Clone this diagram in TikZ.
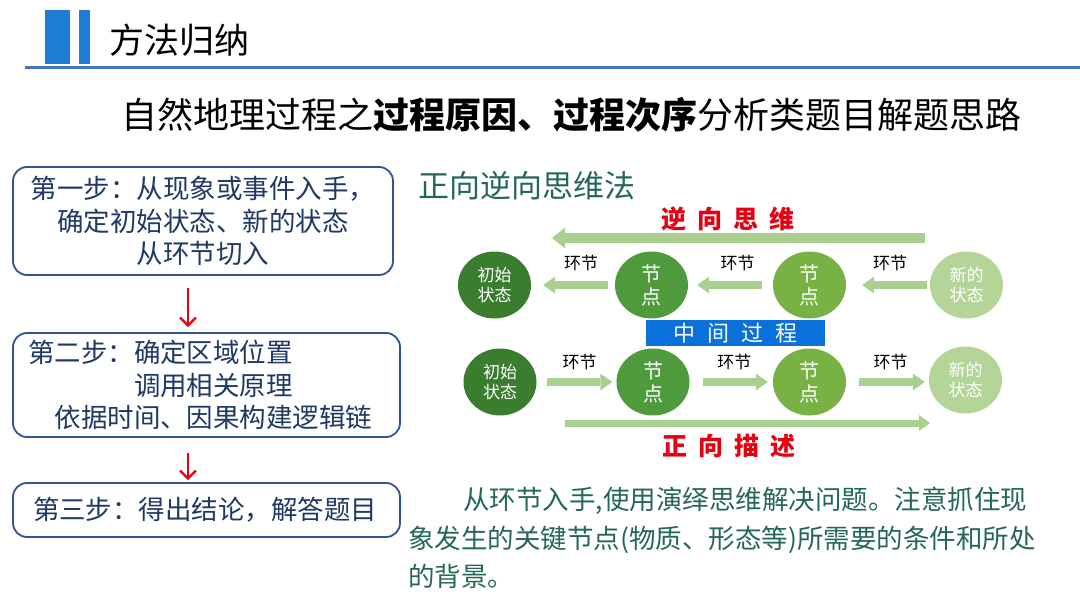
\documentclass[tikz,border=0pt]{standalone}
\usepackage{fontspec}
\setmainfont{Noto Sans CJK SC}
\usepackage{xcolor}
\usetikzlibrary{arrows.meta, positioning, shapes.geometric, calc}

\definecolor{barblue}{HTML}{1E7DD2}
\definecolor{topline}{HTML}{4472C4}
\definecolor{boxblue}{HTML}{2F5597}
\definecolor{stepnavy}{HTML}{1F3864}
\definecolor{tealtext}{HTML}{24675A}
\definecolor{hotred}{HTML}{E60012}
\definecolor{midblue}{HTML}{0A70DC}
\definecolor{arrowgreen}{HTML}{A9D08E}
\definecolor{stateA}{HTML}{3A7D2E}
\definecolor{stateB}{HTML}{4F9A3C}
\definecolor{stateC}{HTML}{79B244}
\definecolor{stateD}{HTML}{B4D597}

\newcommand{\lsp}{\hspace{11pt}}

\tikzset{
  stepbox/.style={draw=boxblue, line width=1.8pt, rounded corners=14pt,
    text=stepnavy, font=\fontsize{26.5}{32.5}\selectfont},
  state/.style={ellipse, minimum width=73pt, minimum height=67pt, inner sep=0pt,
    text=white, align=center, font=\fontsize{17}{20}\selectfont},
  knot/.style={state, font=\fontsize{20}{23}\selectfont},
  fatarrow/.style={draw=arrowgreen, line width=8pt,
    -{Triangle[width=17pt,length=12pt,line width=0pt]}},
  linklabel/.style={font=\fontsize{17}{20}\selectfont, inner sep=0pt},
  redlabel/.style={text=hotred, font=\fontsize{25}{27}\selectfont\bfseries},
  redarrow/.style={draw=hotred, line width=2.2pt, -{Straight Barb[length=8pt,width=16pt]}}
}

\begin{document}
\begin{tikzpicture}[x=1pt, y=-1pt]
  \useasboundingbox (0,0) rectangle (1080,608);

  % header
  \fill[barblue] (45,10) rectangle (70,64);
  \fill[barblue] (79,10) rectangle (90,64);
  \draw[topline, line width=3pt] (25,67) -- (1080,67);
  \node[anchor=west, font=\fontsize{35}{40}\selectfont] (title) at (106,40) {方法归纳};
  \node[anchor=west, font=\fontsize{36}{42}\selectfont] (heading) at (118,115)
    {自然地理过程之\textbf{过程原因、过程次序}分析类题目解题思路};

  % three steps
  \node[stepbox, minimum width=380pt, minimum height=108pt, align=center] (step1) at (203,221)
    {第一步：从现象或事件入手，\\确定初始状态、新的状态\\从环节切入};
  \node[stepbox, minimum width=387pt, minimum height=104pt, text width=357pt,
    inner xsep=15pt, align=left] (step2) at (206.5,385)
    {第二步：确定区域位置\\\hspace*{4em}调用相关原理\\\hspace*{1em}依据时间、因果构建逻辑链};
  \node[stepbox, minimum width=387pt, minimum height=54pt, text width=347pt,
    inner xsep=20pt, align=left] (step3) at (206.5,510) {第三步：得出结论，解答题目};
  \coordinate (redx) at (188,0);
  \draw[redarrow, shorten <=12pt, shorten >=5pt] (step1.south -| redx) -- (step2.north -| redx);
  \draw[redarrow, shorten <=15pt, shorten >=2pt] (step2.south -| redx) -- (step3.north -| redx);

  % forward / backward thinking
  \node[anchor=west, text=tealtext, font=\fontsize{31}{34}\selectfont] (method) at (415,186) {正向逆向思维法};
  \node[redlabel] (revlabel) at (728,219) {逆\lsp 向\lsp 思\lsp 维};
  \coordinate (revstart) at (925,238);
  \coordinate (revend) at (552,238);
  \draw[fatarrow, line width=10pt, -{Triangle[width=21pt,length=13pt,line width=0pt]}] (revstart) -- (revend);

  \node[state, fill=stateA] (u1) at (494.5,285) {初始\\状态};
  \node[knot, fill=stateB] (u2) at (651.5,285) {节\\点};
  \node[knot, fill=stateC] (u3) at (809.5,285) {节\\点};
  \node[state, fill=stateD] (u4) at (966.5,285) {新的\\状态};
  \draw[fatarrow, shorten <=7pt, shorten >=12pt] (u2) -- node[linklabel, above=10pt, xshift=8pt] (ulab1) {环节} (u1);
  \draw[fatarrow, shorten <=11pt, shorten >=9pt] (u3) -- node[linklabel, above=10pt, xshift=7pt] (ulab2) {环节} (u2);
  \draw[fatarrow, shorten <=3pt, shorten >=16pt] (u4) -- node[linklabel, above=10pt, xshift=2pt] (ulab3) {环节} (u3);

  \node[fill=midblue, minimum width=179pt, minimum height=26pt, inner sep=0pt, text=white,
    font=\fontsize{22}{24}\selectfont] (mid) at (735.5,333) {中\hspace{12pt}间\hspace{12pt}过\hspace{12pt}程};

  \node[state, fill=stateA] (l1) at (500,382) {初始\\状态};
  \node[knot, fill=stateB] (l2) at (653,382) {节\\点};
  \node[knot, fill=stateC] (l3) at (809.5,382) {节\\点};
  \node[state, fill=stateD] (l4) at (965.5,380) {新的\\状态};
  \draw[fatarrow, shorten <=10pt, shorten >=4pt] (l1) -- node[linklabel, above=8pt, xshift=3pt] (llab1) {环节} (l2);
  \draw[fatarrow, shorten <=13pt, shorten >=5pt] (l2) -- node[linklabel, above=8pt, xshift=3pt] (llab2) {环节} (l3);
  \draw[fatarrow, shorten <=13pt, shorten >=4pt] (l3 -| l3.east) -- node[linklabel, above=8pt, xshift=3pt] (llab3) {环节} (l3 -| l4.west);

  \coordinate (fwdstart) at (565,423);
  \coordinate (fwdend) at (930,423);
  \draw[fatarrow, line width=7pt, -{Triangle[width=16pt,length=11pt,line width=0pt]}] (fwdstart) -- (fwdend);
  \node[redlabel] (fwdlabel) at (729,446) {正\lsp 向\lsp 描\lsp 述};

  % note below
  \node[anchor=north west, inner sep=0pt, align=left, text=tealtext,
    font=\fontsize{26.5}{38.5}\selectfont] (note) at (408,487)
    {\hspace*{55pt}从环节入手,使用演绎思维解决问题。注意抓住现\\
     象发生的关键节点(物质、形态等)所需要的条件和所处\\
     的背景。};
\end{tikzpicture}
\end{document}
